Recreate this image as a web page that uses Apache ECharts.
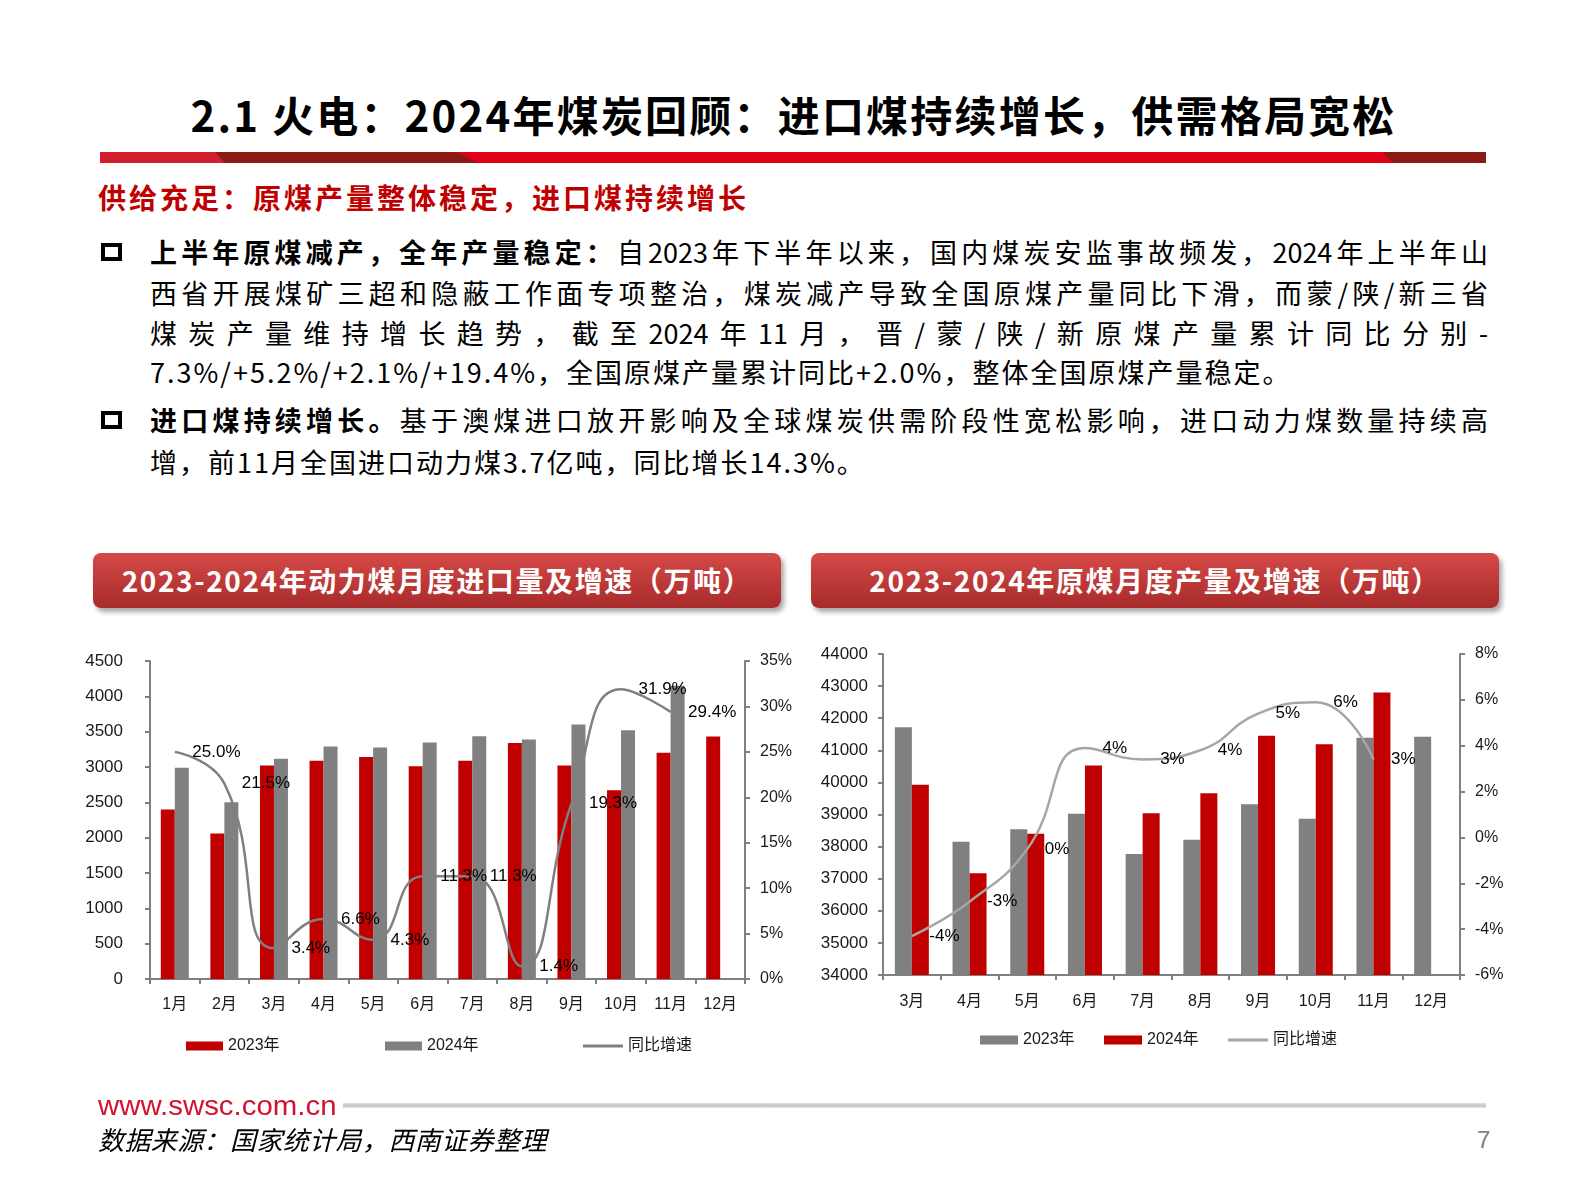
<!DOCTYPE html>
<html>
<head>
<meta charset="utf-8">
<script src="https://cdn.jsdelivr.net/npm/echarts@6/dist/echarts.min.js"></script>
<style>
  html,body{margin:0;padding:0;}
  body{width:1587px;height:1190px;background:#fff;position:relative;overflow:hidden;font-family:"Noto Sans CJK SC",sans-serif;color:#000;}
  .abs{position:absolute;}
  .title{left:0;top:84px;width:1587px;text-align:center;font-size:42px;line-height:60px;font-weight:bold;letter-spacing:2.2px;}
  .bar{left:100px;top:152px;width:1386px;height:11px;background:#E1001A;}
  .seg{position:absolute;top:0;height:11px;}
  .sub{left:98px;top:177px;font-size:28px;line-height:40px;font-weight:bold;color:#C00000;letter-spacing:3px;white-space:nowrap;}
  .line{left:150px;width:1338px;font-size:27px;line-height:40px;white-space:normal;}
  .just{text-align:justify;text-align-last:justify;}
  .last{letter-spacing:2px;white-space:nowrap;}
  .sq{left:101px;width:21px;height:18px;border:4px solid #000;box-sizing:border-box;}
  .banner{top:553px;width:688px;height:55px;border-radius:8px;background:linear-gradient(#D54a48,#A82A2A);box-shadow:3px 4px 5px rgba(0,0,0,0.35);color:#fff;font-size:28px;font-weight:bold;line-height:55px;text-align:center;letter-spacing:1.6px;}
  .www{left:98px;top:1091px;font-family:"Liberation Sans",Arial,sans-serif;font-size:28px;line-height:30px;color:#D2122E;transform:scaleX(1.05);transform-origin:left center;}
  .gline{left:343px;top:1103px;width:1143px;height:5px;background:linear-gradient(#e4e4e4,#c4c4c4,#e4e4e4);}
  .src{left:98px;top:1123px;font-size:26px;line-height:32px;font-style:italic;letter-spacing:0.4px;}
  .pg{left:1477px;top:1124px;font-size:24px;line-height:32px;color:#7f7f7f;font-family:"Liberation Sans",sans-serif;}
  #chartA{position:absolute;left:0;top:620px;width:795px;height:480px;}
  #chartB{position:absolute;left:795px;top:620px;width:792px;height:480px;}
</style>
</head>
<body>
<div class="abs title">2.1 火电：2024年煤炭回顾：进口煤持续增长，供需格局宽松</div>
<div class="abs bar">
  <div class="seg" style="left:0;width:130px;background:#D21F2B;"></div>
  <div class="seg" style="left:115px;width:263px;background:#8C1A14;clip-path:polygon(0 0,242px 0,263px 100%,10px 100%);"></div>
  <div class="seg" style="left:1282px;width:104px;background:#8C1A14;clip-path:polygon(0 0,100% 0,100% 100%,11px 100%);"></div>
</div>
<div class="abs sub">供给充足：原煤产量整体稳定，进口煤持续增长</div>

<div class="abs sq" style="top:243px;"></div>
<div class="abs line just" style="top:232px;"><b>上半年原煤减产，全年产量稳定：</b>自2023年下半年以来，国内煤炭安监事故频发，2024年上半年山</div>
<div class="abs line just" style="top:273px;">西省开展煤矿三超和隐蔽工作面专项整治，煤炭减产导致全国原煤产量同比下滑，而蒙/陕/新三省</div>
<div class="abs line just" style="top:313px;">煤炭产量维持增长趋势，截至2024年11月，晋/蒙/陕/新原煤产量累计同比分别-</div>
<div class="abs line last" style="top:352px;">7.3%/+5.2%/+2.1%/+19.4%，全国原煤产量累计同比+2.0%，整体全国原煤产量稳定。</div>

<div class="abs sq" style="top:411px;"></div>
<div class="abs line just" style="top:400px;"><b>进口煤持续增长。</b>基于澳煤进口放开影响及全球煤炭供需阶段性宽松影响，进口动力煤数量持续高</div>
<div class="abs line last" style="top:442px;">增，前11月全国进口动力煤3.7亿吨，同比增长14.3%。</div>

<div class="abs banner" style="left:93px;">2023-2024年动力煤月度进口量及增速（万吨）</div>
<div class="abs banner" style="left:811px;">2023-2024年原煤月度产量及增速（万吨）</div>

<div id="chartA"></div>
<div id="chartB"></div>

<div class="abs www">www.swsc.com.cn</div>
<div class="abs gline"></div>
<div class="abs src">数据来源：国家统计局，西南证券整理</div>
<div class="abs pg">7</div>

<script>
// ---- Chart A: 动力煤月度进口量 ----
const monthsImport = ['1月','2月','3月','4月','5月','6月','7月','8月','9月','10月','11月','12月'];
const import2023 = [2400, 2060, 3020, 3090, 3140, 3010, 3090, 3340, 3020, 2670, 3200, 3430];
const import2024 = [2990, 2500, 3115, 3290, 3275, 3345, 3435, 3390, 3600, 3520, 4150, null];
const importYoY = [25.0, 21.5, 3.4, 6.6, 4.3, 11.3, 11.3, 1.4, 19.3, 31.9, 29.4, null];

// ---- Chart B: 原煤月度产量 ----
const monthsProd = ['3月','4月','5月','6月','7月','8月','9月','10月','11月','12月'];
const prod2023 = [41720, 38150, 38540, 39020, 37770, 38210, 39320, 38870, 41390, 41420];
const prod2024 = [39930, 37170, 38400, 40530, 39040, 39660, 41450, 41190, 42800, null];
const prodYoY = [-4.3, -2.8, -0.5, 3.9, 3.4, 3.8, 5.4, 5.9, 3.4, null];

const RED = '#C00000', GREY = '#808080', AX = '#808080', TXT = '#1a1a1a';
const FONT = '"Liberation Sans","Noto Sans CJK SC",sans-serif';
const plain = v => String(v);

function axisLineCfg(){ return {show:true, onZero:false, lineStyle:{color:AX, width:2}}; }
function tickCfg(){ return {show:true, length:5, lineStyle:{color:AX, width:2}}; }

const optA = {
  animation:false,
  textStyle:{fontFamily:FONT},
  grid:{left:150, top:41, width:602, height:318},
  xAxis:{type:'category', data:monthsImport, axisLine:axisLineCfg(), axisTick:tickCfg(),
         axisLabel:{color:TXT, fontSize:16, margin:18}},
  yAxis:[
    {type:'value', min:0, max:4500, interval:500, axisLine:axisLineCfg(), axisTick:tickCfg(),
     splitLine:{show:false}, axisLabel:{color:TXT, fontSize:17, margin:27, formatter:plain}},
    {type:'value', min:0, max:35, interval:5, position:'right', axisLine:axisLineCfg(), axisTick:tickCfg(),
     splitLine:{show:false}, axisLabel:{color:TXT, fontSize:16, margin:15, formatter:'{value}%'}}
  ],
  legend:[
    {data:['2023年'], left:186, top:418, padding:0, icon:'rect', itemWidth:37, itemHeight:9, textStyle:{fontSize:16, color:TXT}},
    {data:['2024年'], left:385, top:418, padding:0, icon:'rect', itemWidth:37, itemHeight:9, textStyle:{fontSize:16, color:TXT}},
    {data:[{name:'同比增速', icon:'rect', itemStyle:{color:GREY}}], left:583, top:418, padding:0, itemWidth:40, itemHeight:3, textStyle:{fontSize:16, color:TXT}}
  ],
  series:[
    {name:'2023年', type:'bar', data:import2023, barWidth:14, barGap:'0%', itemStyle:{color:RED}},
    {name:'2024年', type:'bar', data:import2024, barWidth:14, barGap:'0%', itemStyle:{color:GREY}},
    {name:'同比增速', type:'line', yAxisIndex:1, data:importYoY, smooth:true, symbol:'circle', symbolSize:1,
     itemStyle:{color:'rgba(0,0,0,0)'}, lineStyle:{color:GREY, width:2.5},
     label:{show:true, position:'right', distance:17, fontSize:17, color:'#000',
            formatter:p => p.value == null ? '' : p.value.toFixed(1) + '%'}, z:5}
  ]
};

const optB = {
  animation:false,
  textStyle:{fontFamily:FONT},
  grid:{left:88, top:34, width:577, height:321},
  xAxis:{type:'category', data:monthsProd, axisLine:axisLineCfg(), axisTick:tickCfg(),
         axisLabel:{color:TXT, fontSize:16, margin:19}},
  yAxis:[
    {type:'value', min:34000, max:44000, interval:1000, axisLine:axisLineCfg(), axisTick:tickCfg(),
     splitLine:{show:false}, axisLabel:{color:TXT, fontSize:17, margin:15, formatter:plain}},
    {type:'value', min:-6, max:8, interval:2, position:'right', axisLine:axisLineCfg(), axisTick:tickCfg(),
     splitLine:{show:false}, axisLabel:{color:TXT, fontSize:16, margin:15, formatter:'{value}%'}}
  ],
  legend:[
    {data:['2023年'], left:185, top:412, padding:0, icon:'rect', itemWidth:38, itemHeight:9, textStyle:{fontSize:16, color:TXT}},
    {data:['2024年'], left:309, top:412, padding:0, icon:'rect', itemWidth:38, itemHeight:9, textStyle:{fontSize:16, color:TXT}},
    {data:[{name:'同比增速', icon:'rect', itemStyle:{color:'#A6A6A6'}}], left:433, top:412, padding:0, itemWidth:40, itemHeight:3, textStyle:{fontSize:16, color:TXT}}
  ],
  series:[
    {name:'2023年', type:'bar', data:prod2023, barWidth:17, barGap:'0%', itemStyle:{color:GREY}},
    {name:'2024年', type:'bar', data:prod2024, barWidth:17, barGap:'0%', itemStyle:{color:RED}},
    {name:'同比增速', type:'line', yAxisIndex:1, data:prodYoY, smooth:true, symbol:'circle', symbolSize:1,
     itemStyle:{color:'rgba(0,0,0,0)'}, lineStyle:{color:'#A6A6A6', width:2.5},
     label:{show:true, position:'right', distance:17, fontSize:17, color:'#000',
            formatter:p => p.value == null ? '' : Math.round(p.value) + '%'}, z:5}
  ]
};

echarts.init(document.getElementById('chartA'), null, {renderer:'canvas'}).setOption(optA);
echarts.init(document.getElementById('chartB'), null, {renderer:'canvas'}).setOption(optB);
</script>
</body>
</html>
